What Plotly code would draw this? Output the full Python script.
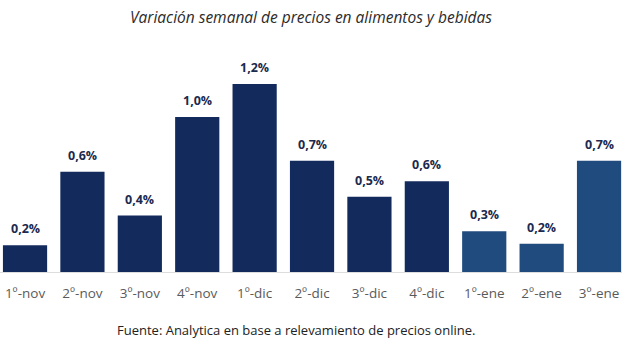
import plotly.graph_objects as go

categories = ["1º-nov", "2º-nov", "3º-nov", "4º-nov", "1º-dic", "2º-dic",
              "3º-dic", "4º-dic", "1º-ene", "2º-ene", "3º-ene"]
values = [0.17, 0.64, 0.36, 0.99, 1.20, 0.71, 0.48, 0.58, 0.26, 0.18, 0.71]
labels = ["0,2%", "0,6%", "0,4%", "1,0%", "1,2%", "0,7%",
          "0,5%", "0,6%", "0,3%", "0,2%", "0,7%"]
months = ["nov"] * 4 + ["dic"] * 4 + ["ene"] * 3

month_colors = {"nov": "#132b5c", "dic": "#132b5c", "ene": "#204b7e"}
colors = [month_colors[m] for m in months]

FONT = "Open Sans"

fig = go.Figure()
fig.add_trace(go.Bar(
    x=categories, y=values,
    marker=dict(color=colors, line=dict(width=0)),
    hoverinfo="skip",
))

for c, v, t in zip(categories, values, labels):
    fig.add_annotation(
        x=c, y=v, text=t, showarrow=False,
        yanchor="bottom", yshift=6,
        font=dict(family=FONT, size=12.5, color="#1b2a4e", weight="bold"),
    )

fig.update_layout(
    width=622, height=340,
    margin=dict(l=0, r=0, t=40, b=68),
    paper_bgcolor="white", plot_bgcolor="white",
    bargap=0.23,
    showlegend=False,
    title=dict(
        text="<i>Variación semanal de precios en alimentos y bebidas</i>",
        x=0.5, xanchor="center", y=0.948, yref="container", yanchor="middle",
        font=dict(family=FONT, size=15.5, color="#2b2b2b"),
    ),
    xaxis=dict(
        range=[-0.436, 10.40],
        showgrid=False, zeroline=False,
        showline=True, linecolor="#dddddd", linewidth=1,
        ticks="", ticklabelstandoff=9,
        tickfont=dict(family=FONT, size=13.5, color="#5a5a5a"),
        fixedrange=True,
    ),
    yaxis=dict(
        range=[0, 1.481], visible=False, fixedrange=True,
    ),
)

fig.add_annotation(
    text="Fuente: Analytica en base a relevamiento de precios online.",
    xref="paper", yref="paper", x=0.476, y=-0.25, yanchor="middle",
    showarrow=False,
    font=dict(family=FONT, size=13, color="#222222"),
)

fig.write_html("out.html")
